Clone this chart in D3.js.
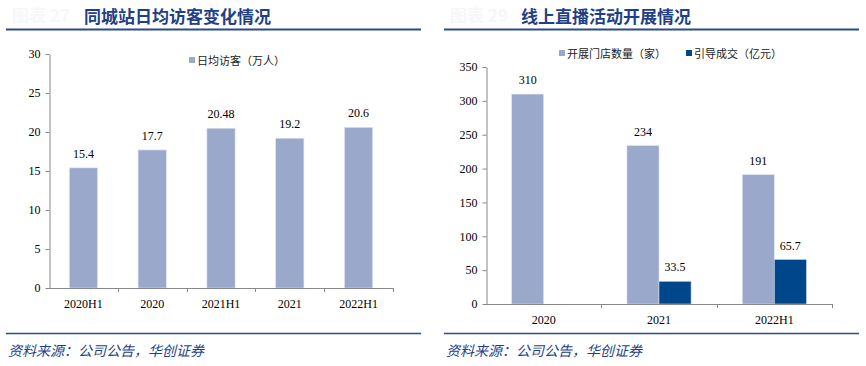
<!DOCTYPE html>
<html><head><meta charset="utf-8">
<script src="https://cdn.jsdelivr.net/npm/d3@7/dist/d3.min.js"></script>
<style>
body{margin:0;background:#fff;}
svg{display:block;}
</style></head>
<body><svg id="c" width="866" height="366"></svg>
<script>
// ---- data ----
const leftTitle = "同城站日均访客变化情况";
const leftCategories = ["2020H1","2020","2021H1","2021","2022H1"];
const leftValues = [15.4,17.7,20.48,19.2,20.6];
const leftLabels = ["15.4","17.7","20.48","19.2","20.6"];
const leftSeriesName = "日均访客（万人）";
const leftTicks = [0,5,10,15,20,25,30];

const rightTitle = "线上直播活动开展情况";
const rightCategories = ["2020","2021","2022H1"];
const rightSeriesNames = ["开展门店数量（家）","引导成交（亿元）"];
const storeCounts = [310,234,191];
const gmvValues = [null,33.5,65.7];
const rightTicks = [0,50,100,150,200,250,300,350];
const sourceText = "资料来源：公司公告，华创证券";

const cLight = "#99a8cb", cDark = "#00468a", cTitle = "#1f3f86";
const serif = "'Liberation Serif','Times New Roman',serif";
const cjk = "'Noto Sans CJK SC','Noto Sans CJK JP',sans-serif";

const svg = d3.select("#c");

function header(x0, x1, titleX, prefix, title){
  svg.append("text").attr("x", x0+6).attr("y", 22).attr("font-family", cjk)
    .attr("font-size", 17).attr("font-weight", 700).attr("fill", "#f6f7f9").text(prefix);
  svg.append("text").attr("x", titleX).attr("y", 23).attr("font-family", cjk)
    .attr("font-size", 17).attr("font-weight", 700).attr("fill", cTitle).text(title);
  svg.append("line").attr("x1", x0).attr("x2", x1).attr("y1", 29.5).attr("y2", 29.5)
    .attr("stroke", "#2b4a8c").attr("stroke-width", 2);
  svg.append("line").attr("x1", x0).attr("x2", x1).attr("y1", 333.5).attr("y2", 333.5)
    .attr("stroke", "#2b4a8c").attr("stroke-width", 1.5);
  svg.append("text").attr("x", x0+2).attr("y", 356).attr("font-family", cjk)
    .attr("font-size", 14).attr("fill", cTitle)
    .style("font-style","italic").text(sourceText);
}

function yAxis(g, y, ticks, x){
  const ax = g.append("g").attr("transform", `translate(${x},0)`)
    .call(d3.axisLeft(y).tickValues(ticks).tickSize(4).tickSizeOuter(0).tickPadding(5));
  ax.select(".domain").attr("stroke", "#888");
  ax.selectAll(".tick line").attr("stroke", "#888");
  ax.selectAll("text").attr("font-family", serif).attr("font-size", 12).attr("fill", "#000");
}

function xAxis(g, x, cats, y0){
  const r = x.range();
  g.append("line").attr("x1", r[0]).attr("x2", r[1]).attr("y1", y0+0.5).attr("y2", y0+0.5).attr("stroke", "#888");
  const bounds = cats.map(c => x(c) + x.step());
  g.selectAll(".xt").data(bounds).join("line").attr("class","xt")
    .attr("x1", d => Math.round(d)+0.5).attr("x2", d => Math.round(d)+0.5)
    .attr("y1", y0).attr("y2", y0+4).attr("stroke", "#888");
  g.selectAll(".xl").data(cats).join("text").attr("class","xl")
    .attr("x", d => x(d) + x.step()/2).attr("y", y0+20).attr("text-anchor","middle")
    .attr("font-family", serif).attr("font-size", 12).text(d => d);
}

// ---- left chart ----
header(6, 421, 84, "图表 27", leftTitle);
{
  const g = svg.append("g");
  const y = d3.scaleLinear().domain([0,30]).range([288,54]);
  const x = d3.scaleBand().domain(leftCategories).range([49,393]).paddingInner(0).paddingOuter(0);
  const bw = x.step()*0.41;
  yAxis(g, y, leftTicks, 49.5);
  g.selectAll(".bar").data(leftValues).join("rect")
    .attr("x", (d,i) => x(leftCategories[i]) + (x.step()-bw)/2)
    .attr("y", d => y(d)).attr("width", bw).attr("height", d => y(0)-y(d))
    .attr("fill", cLight).attr("stroke", "#dfe4ef").attr("stroke-width", 0.6);
  g.selectAll(".lbl").data(leftValues).join("text")
    .attr("x", (d,i) => x(leftCategories[i]) + x.step()/2)
    .attr("y", d => y(d) - 10).attr("text-anchor","middle")
    .attr("font-family", serif).attr("font-size", 12).text((d,i) => leftLabels[i]);
  xAxis(g, x, leftCategories, 288);
  // legend
  g.append("rect").attr("x", 189).attr("y", 57).attr("width", 6).attr("height", 6).attr("fill", cLight);
  g.append("text").attr("x", 197).attr("y", 64.5).attr("font-family", cjk).attr("font-size", 11)
    .attr("fill", "#222").text(leftSeriesName);
}

// ---- right chart ----
header(444, 859, 521, "图表 29", rightTitle);
{
  const g = svg.append("g");
  const y = d3.scaleLinear().domain([0,350]).range([304,67]);
  const x = d3.scaleBand().domain(rightCategories).range([486,832]);
  const pairW = x.step()*0.556;
  const xs = d3.scaleBand().domain([0,1]).range([0, pairW]);
  yAxis(g, y, rightTicks, 486.5);
  const series = [storeCounts, gmvValues];
  const colors = [cLight, cDark];
  series.forEach((vals, si) => {
    const data = vals.map((v,i) => ({v, c: rightCategories[i]})).filter(d => d.v != null);
    g.selectAll(".b"+si).data(data).join("rect")
      .attr("x", d => x(d.c) + (x.step()-pairW)/2 + xs(si))
      .attr("y", d => y(d.v)).attr("width", xs.bandwidth()).attr("height", d => y(0)-y(d.v))
      .attr("fill", colors[si]).attr("stroke", si===0 ? "#dfe4ef" : "#c5d2e4").attr("stroke-width", 0.6);
    g.selectAll(".l"+si).data(data).join("text")
      .attr("x", d => x(d.c) + (x.step()-pairW)/2 + xs(si) + xs.bandwidth()/2)
      .attr("y", d => y(d.v) - 10).attr("text-anchor","middle")
      .attr("font-family", serif).attr("font-size", 12).text(d => d.v);
  });
  xAxis(g, x, rightCategories, 304);
  // legend
  const lx = [559, 686];
  rightSeriesNames.forEach((n, i) => {
    g.append("rect").attr("x", lx[i]).attr("y", 50).attr("width", 6).attr("height", 6).attr("fill", colors[i]);
    g.append("text").attr("x", lx[i]+8).attr("y", 57.5).attr("font-family", cjk).attr("font-size", 11)
      .attr("fill", "#222").text(n);
  });
}
</script></body></html>
